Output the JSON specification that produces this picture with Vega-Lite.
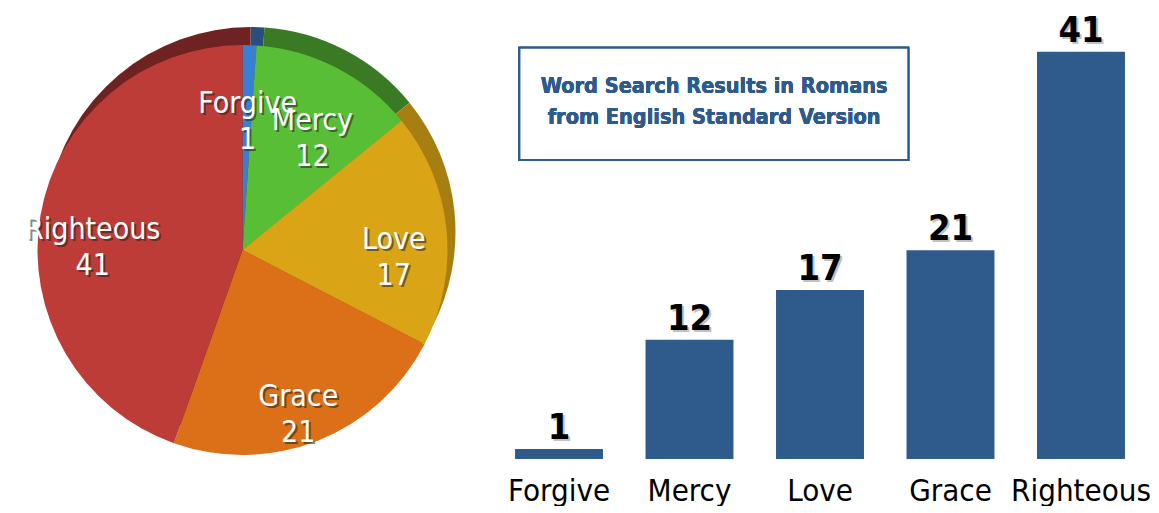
{
  "$schema": "https://vega.github.io/schema/vega-lite/v6.json",
  "padding": 0,
  "spacing": 20,
  "background": "white",
  "config": {"view": {"stroke": null}, "font": "DejaVu Sans Condensed"},
  "datasets": {
    "words": [
      {"word": "Forgive", "count": 1, "rank": 1},
      {"word": "Mercy", "count": 12, "rank": 2},
      {"word": "Love", "count": 17, "rank": 3},
      {"word": "Grace", "count": 21, "rank": 4},
      {"word": "Righteous", "count": 41, "rank": 5}
    ]
  },
  "hconcat": [
    {
      "width": 485,
      "height": 500,
      "data": {"name": "words"},
      "encoding": {
        "theta": {"field": "count", "type": "quantitative", "stack": true},
        "order": {"field": "rank", "type": "quantitative"}
      },
      "layer": [
        {
          "mark": {"type": "arc", "outerRadius": 205, "xOffset": 8, "yOffset": -18},
          "encoding": {
            "color": {
              "field": "word", "type": "nominal",
              "scale": {"domain": ["Forgive", "Mercy", "Love", "Grace", "Righteous"],
                        "range": ["#2A4F7E", "#3A7A25", "#A77E12", "#9A4E12", "#6E2222"]},
              "legend": null
            }
          }
        },
        {
          "mark": {"type": "arc", "outerRadius": 205},
          "encoding": {
            "fill": {
              "field": "word", "type": "nominal",
              "scale": {"domain": ["Forgive", "Mercy", "Love", "Grace", "Righteous"],
                        "range": ["#3A80D2", "#58BE35", "#D9A416", "#DC7019", "#BE3C38"]},
              "legend": null
            }
          }
        },
        {
          "mark": {"type": "text", "radius": 152, "fontSize": 30, "color": "#222222", "opacity": 0.55, "dx": 2, "dy": -15, "yOffset": 23},
          "encoding": {"text": {"field": "word"}, "detail": {"field": "word"}}
        },
        {
          "mark": {"type": "text", "radius": 152, "fontSize": 30, "color": "white", "dy": -17, "yOffset": 23},
          "encoding": {"text": {"field": "word"}, "detail": {"field": "word"}}
        },
        {
          "mark": {"type": "text", "radius": 152, "fontSize": 30, "color": "#222222", "opacity": 0.55, "dx": 2, "dy": 21, "yOffset": 23},
          "encoding": {"text": {"field": "count"}, "detail": {"field": "word"}}
        },
        {
          "mark": {"type": "text", "radius": 152, "fontSize": 30, "color": "white", "dy": 19, "yOffset": 23},
          "encoding": {"text": {"field": "count"}, "detail": {"field": "word"}}
        }
      ]
    },
    {
      "width": 630,
      "height": 459,
      "data": {"name": "words"},
      "encoding": {
        "x": {
          "field": "word", "type": "nominal", "sort": null, "title": null,
          "scale": {"paddingInner": 0.326, "paddingOuter": 0.077},
          "axis": {"domain": false, "ticks": false, "tickSize": 0, "labelFontSize": 31, "labelPadding": 17,
                   "labelColor": "black", "labelFont": "DejaVu Sans Condensed", "labelAngle": 0}
        }
      },
      "layer": [
        {
          "mark": {"type": "bar", "color": "#2E5A8C"},
          "encoding": {"y": {"field": "count", "type": "quantitative", "scale": {"domain": [0, 46.2], "nice": false, "zero": true}, "axis": null}}
        },
        {
          "mark": {"type": "text", "baseline": "alphabetic", "dy": -8, "dx": 2, "fontSize": 36, "fontWeight": "bold",
                   "font": "DejaVu Sans Condensed", "color": "#777777", "opacity": 0.45},
          "encoding": {"y": {"field": "count", "type": "quantitative"}, "text": {"field": "count"}}
        },
        {
          "mark": {"type": "text", "baseline": "alphabetic", "dy": -10, "fontSize": 36, "fontWeight": "bold",
                   "font": "DejaVu Sans Condensed", "color": "black"},
          "encoding": {"y": {"field": "count", "type": "quantitative"}, "text": {"field": "count"}}
        },
        {
          "mark": {"type": "rect", "fill": "white", "stroke": "#2E5A8C", "strokeWidth": 2},
          "encoding": {"x": {"datum": "Forgive", "bandPosition": 0.05}, "x2": {"datum": "Grace", "bandPosition": 0.02},
                       "y": {"datum": 30.1}, "y2": {"datum": 41.4}}
        },
        {
          "mark": {"type": "text", "color": "#2E5A8C", "fontWeight": "bold", "fontSize": 21.5, "lineHeight": 31,
                   "baseline": "middle", "align": "center",
                   "text": ["Word Search Results in Romans", "from English Standard Version"]},
          "encoding": {"x": {"datum": "Mercy", "bandPosition": 0.78}, "y": {"datum": 37.4}}
        }
      ]
    }
  ]
}
